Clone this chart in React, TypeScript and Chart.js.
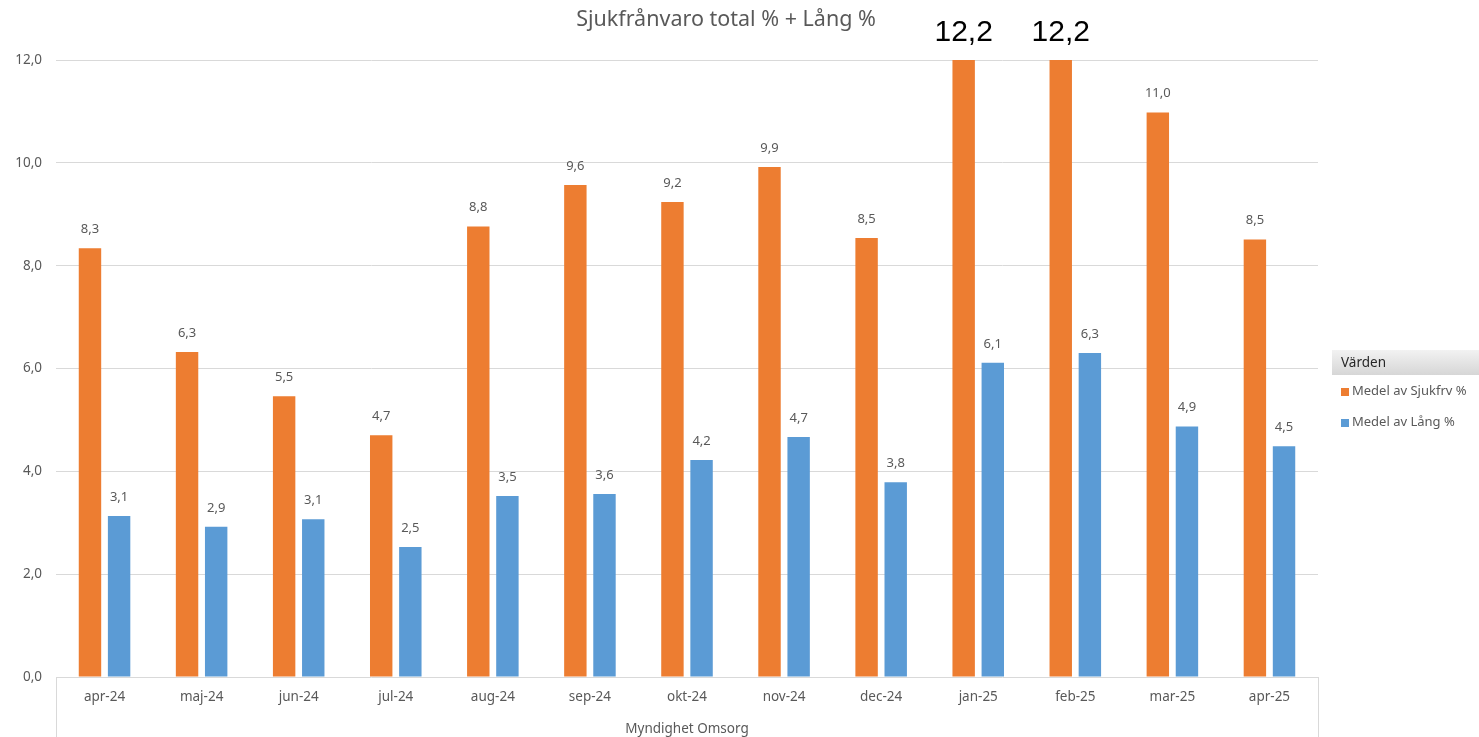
import React, { useEffect, useRef } from "react";
import { Chart, registerables } from "chart.js";

Chart.register(...registerables);

const categories = ["apr-24", "maj-24", "jun-24", "jul-24", "aug-24", "sep-24", "okt-24", "nov-24", "dec-24", "jan-25", "feb-25", "mar-25", "apr-25"];
const sjukfrv = [8.34, 6.32, 5.46, 4.70, 8.76, 9.57, 9.24, 9.92, 8.54, 12.2, 12.2, 10.98, 8.51];
const lang = [3.13, 2.92, 3.07, 2.53, 3.52, 3.56, 4.22, 4.67, 3.79, 6.11, 6.30, 4.87, 4.49];
const seriesNames = ["Medel av Sjukfrv %", "Medel av Lång %"];
const yTicks = [0, 2, 4, 6, 8, 10, 12];
const title = "Sjukfrånvaro total % + Lång %";
const xTitle = "Myndighet Omsorg";
const legendTitle = "Värden";

const ORANGE = "#ED7D31";
const BLUE = "#5B9BD5";
const GRAY = "#595959";
const FONT = "'Noto Sans', 'Open Sans', sans-serif";

const fmt = (v: number) => (Math.round(v * 10) / 10).toFixed(1).replace(".", ",");

const overlayPlugin = {
  id: "overlay",
  afterDatasetsDraw(chart: any) {
    const ctx = chart.ctx;
    const area = chart.chartArea;
    const yScale = chart.scales.y;
    ctx.save();
    chart.data.datasets.forEach((ds: any, di: number) => {
      const meta = chart.getDatasetMeta(di);
      meta.data.forEach((bar: any, i: number) => {
        const v = ds.data[i];
        if (v > yScale.max) {
          ctx.fillStyle = "#000";
          ctx.font = "30px 'Liberation Sans', Arial, sans-serif";
          ctx.textAlign = "center";
          ctx.textBaseline = "middle";
          ctx.fillText(fmt(v), bar.x, 33);
        } else {
          ctx.fillStyle = GRAY;
          ctx.font = "13px " + FONT;
          ctx.textAlign = "center";
          ctx.textBaseline = "middle";
          ctx.fillText(fmt(v), bar.x, bar.y - 19);
        }
      });
    });
    // title
    ctx.fillStyle = GRAY;
    ctx.font = "21.5px " + FONT;
    ctx.textAlign = "center";
    ctx.textBaseline = "middle";
    ctx.fillText(title, 726, 20);
    // frame lines below axis
    ctx.strokeStyle = "#d9d9d9";
    ctx.lineWidth = 1;
    ctx.beginPath();
    ctx.moveTo(Math.round(area.left) + 0.5, area.bottom);
    ctx.lineTo(Math.round(area.left) + 0.5, chart.height);
    ctx.moveTo(Math.round(area.right) + 0.5, area.bottom);
    ctx.lineTo(Math.round(area.right) + 0.5, chart.height);
    ctx.stroke();
    // x title
    ctx.fillStyle = GRAY;
    ctx.font = "13.5px " + FONT;
    ctx.textAlign = "center";
    ctx.textBaseline = "middle";
    ctx.fillText(xTitle, (area.left + area.right) / 2, 729);
    // legend
    const lx = 1332;
    const g = ctx.createLinearGradient(0, 350, 0, 375);
    g.addColorStop(0, "#f2f2f2");
    g.addColorStop(1, "#d6d6d6");
    ctx.fillStyle = g;
    ctx.fillRect(lx, 350, chart.width - lx, 25);
    ctx.fillStyle = "#262626";
    ctx.font = "13.5px " + FONT;
    ctx.textAlign = "left";
    ctx.fillText(legendTitle, 1341, 363);
    const colors = [ORANGE, BLUE];
    const ys = [391, 422];
    seriesNames.forEach((n, k) => {
      ctx.fillStyle = colors[k];
      ctx.fillRect(1341, ys[k] - 3, 8, 8);
      ctx.fillStyle = GRAY;
      ctx.font = "13px " + FONT;
      ctx.fillText(n, 1352, ys[k]);
    });
    ctx.restore();
  },
};

export default function App() {
  const ref = useRef<HTMLCanvasElement>(null);
  useEffect(() => {
    const chart = new Chart(ref.current as HTMLCanvasElement, {
      type: "bar",
      data: {
        labels: categories,
        datasets: [
          { label: seriesNames[0], data: sjukfrv, backgroundColor: ORANGE, categoryPercentage: 0.6, barPercentage: 0.77 },
          { label: seriesNames[1], data: lang, backgroundColor: BLUE, categoryPercentage: 0.6, barPercentage: 0.77 },
        ],
      },
      options: {
        animation: false,
        responsive: false,
        layout: { padding: { left: 0, right: 161, top: 60, bottom: 0 } },
        plugins: { legend: { display: false }, tooltip: { enabled: false }, title: { display: false } },
        scales: {
          x: {
            grid: { display: false, drawTicks: false },
            border: { display: false },
            ticks: { color: GRAY, font: { size: 13.5, family: FONT }, padding: 12, maxRotation: 0 },
            afterFit: (axis: any) => { axis.height = 60; },
          },
          y: {
            min: 0,
            max: 12,
            afterBuildTicks: (axis: any) => { axis.ticks = yTicks.map((v) => ({ value: v })); },
            grid: { color: "#d9d9d9", drawTicks: false },
            border: { display: false },
            ticks: { color: GRAY, font: { size: 13.5, family: FONT }, padding: 14, callback: (v: any) => fmt(Number(v)) },
            afterFit: (axis: any) => { axis.width = 56; },
          },
        },
      },
      plugins: [overlayPlugin],
    });
    return () => chart.destroy();
  }, []);
  return (
    <div style={{ position: "fixed", left: 0, top: 0, width: 1479, height: 737, background: "#fff" }}>
      <canvas ref={ref} width={1479} height={737} style={{ display: "block" }} />
    </div>
  );
}
